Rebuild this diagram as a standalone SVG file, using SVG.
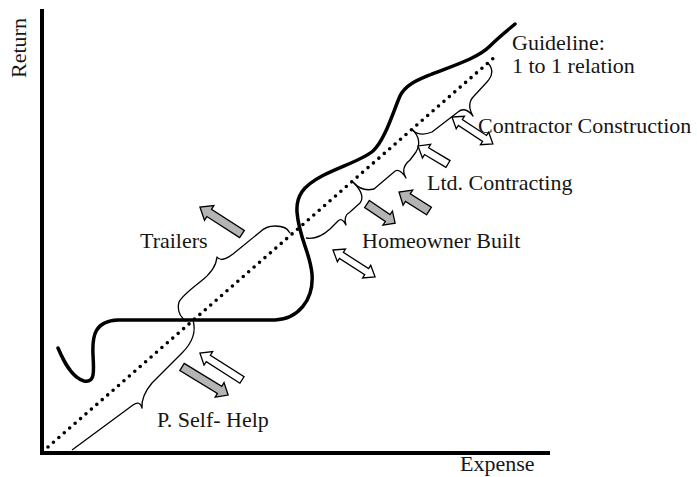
<svg xmlns="http://www.w3.org/2000/svg" width="697" height="477" viewBox="0 0 697 477">
<style>
.lbl{font-family:"Liberation Serif","Times New Roman",serif;font-size:22px;fill:#161616}
.axis{stroke:#000;stroke-width:4;fill:none}
.curve{stroke:#000;stroke-width:3.5;fill:none;stroke-linecap:round;stroke-linejoin:round}
.guide{stroke:#000;stroke-width:3.6;fill:none;stroke-linecap:round;stroke-dasharray:0 7.2}
.brace{stroke:#000;stroke-width:1.3;fill:none;stroke-linejoin:round}
.gray{fill:#b4b4b4;stroke:#000;stroke-width:1.3;stroke-linejoin:miter}
.white{fill:#fff;stroke:#000;stroke-width:1.3;stroke-linejoin:miter}
</style>
<rect width="697" height="477" fill="#fff"/>
<g id="axes">
<path class="axis" d="M42,9 L42,453 L550,453"/>
<text class="lbl" font-size="21" text-anchor="middle" transform="translate(26,48) rotate(-90)">Return</text>
<text class="lbl" x="460" y="471">Expense</text>
</g>
<g id="guideline">
<path class="guide" d="M48,447 L497,55"/>
<text class="lbl" x="512" y="50">Guideline:</text>
<text class="lbl" x="512" y="73">1 to 1 relation</text>
</g>
<g id="curve">
<path class="curve" d="M58,348 C64,362 72,378 84,381 C95,383 94,372 93,355 C92,335 95,321 118,320 L275,320 C298,319 314,300 312,274 C310,252 299,238 297,212 C296,196 303,186 322,176 C342,166 362,160 373,151 C385,140 393,112 400,96 C406,84 418,80 432,74 C455,65 478,58 490,46 C500,36 508,30 515,24"/>
</g>
<g id="self-help">
<path class="brace" d="M72,450 L133,405 Q140,400 142,408 Q141,396 152,383 L182,353 Q198,337 193,320"/>
<path class="gray" transform="translate(182,367) rotate(31.3)" d="M0,-4.2 L44,-4.2 L44,-8.5 L54,0 L44,8.5 L44,4.2 L0,4.2 Z"/>
<path class="white" transform="translate(242,380) rotate(212.7)" d="M0,-3.8 L40,-3.8 L40,-8 L50,0 L40,8 L40,3.8 L0,3.8 Z"/>
<text class="lbl" x="157" y="427">P. Self- Help</text>
</g>
<g id="trailers">
<path class="brace" d="M186,321 Q176,314 179,302 Q182,296 200,282 Q216,270 217,257 Q221,263 233,254 L260,232 Q266,226 275,226 Q287,226 290,233"/>
<path class="gray" transform="translate(242,234) rotate(212.7)" d="M0,-4.3 L39,-4.3 L39,-8.7 L50,0 L39,8.7 L39,4.3 L0,4.3 Z"/>
<text class="lbl" x="140" y="248">Trailers</text>
</g>
<g id="homeowner">
<path class="brace" d="M306,238 Q318,240 330,229 L338,221 Q342,217 346,225 Q343,216 350,212 L360,203 Q366,195 353,182"/>
<path class="gray" transform="translate(367,204) rotate(34.2)" d="M0,-4.2 L25,-4.2 L25,-8.5 L34,0 L25,8.5 L25,4.2 L0,4.2 Z"/>
<path class="white" transform="translate(333,250) rotate(32.7)" d="M0,0 L10,-7.5 L10,-3.6 L40,-3.6 L40,-7.5 L50,0 L40,7.5 L40,3.6 L10,3.6 L10,7.5 Z"/>
<text class="lbl" x="362" y="248">Homeowner Built</text>
</g>
<g id="ltd-contracting">
<path class="brace" d="M354,183 Q362,192 374,189 L394,172 Q399,167 406,178 Q400,168 410,160 L416,152 Q423,140 412,129"/>
<path class="gray" transform="translate(429,211) rotate(212.3)" d="M0,-4.5 L25,-4.5 L25,-9 L35.5,0 L25,9 L25,4.5 L0,4.5 Z"/>
<path class="white" transform="translate(448,164) rotate(211)" d="M0,-4 L25,-4 L25,-8 L35,0 L25,8 L25,4 L0,4 Z"/>
<text class="lbl" x="427" y="190">Ltd. Contracting</text>
</g>
<g id="contractor">
<path class="brace" d="M412,130 Q420,137 432,132 L458,112 Q465,106 473,116 Q466,104 474,96 L487,82 Q496,72 488,63"/>
<text class="lbl" x="478" y="133">Contractor Construction</text>
<path class="white" transform="translate(452,117) rotate(33.4)" d="M0,0 L10,-7.5 L10,-3.6 L39,-3.6 L39,-7.5 L49,0 L39,7.5 L39,3.6 L10,3.6 L10,7.5 Z"/>
</g>
</svg>
